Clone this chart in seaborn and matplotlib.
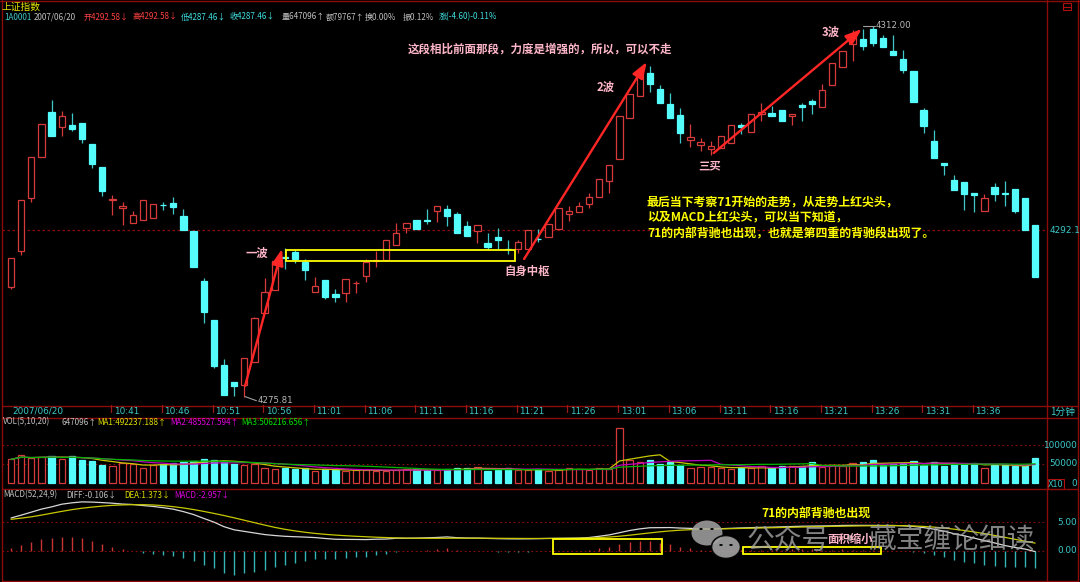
import numpy as np
import pandas as pd
import matplotlib
matplotlib.use("Agg")
import matplotlib.pyplot as plt
import matplotlib.transforms as mtransforms
from matplotlib.patches import Rectangle, Ellipse, Circle
from matplotlib.lines import Line2D
import seaborn as sns

# ---------------- data: 1-minute bars of 上证指数, 2007/06/20 ----------------
tick_labels = ["10:41", "10:46", "10:51", "10:56", "11:01", "11:06", "11:11", "11:16", "11:21",
               "11:26", "13:01", "13:06", "13:11", "13:16", "13:21", "13:26", "13:31", "13:36"]
tick_index = list(range(10, 100, 5))

open_ = [4286.54, 4290.05, 4295.22, 4299.17, 4303.61, 4302.09, 4302.32, 4302.54, 4300.46, 4298.19,
         4295.00, 4294.19, 4292.73, 4293.05, 4293.21, 4294.51, 4294.71, 4293.41, 4292.00, 4287.10,
         4283.29, 4278.90, 4277.22, 4276.92, 4279.20, 4283.95, 4286.22, 4289.41, 4289.88, 4288.95,
         4286.03, 4287.20, 4285.80, 4285.90, 4286.90, 4287.62, 4289.05, 4289.15, 4290.58, 4292.24,
         4293.02, 4293.02, 4293.90, 4294.09, 4293.63, 4292.49, 4292.00, 4290.83, 4291.39, 4290.22,
         4290.19, 4290.22, 4291.20, 4291.36, 4292.14, 4293.63, 4293.86, 4294.58, 4295.32, 4296.88,
         4299.00, 4303.03, 4305.17, 4307.36, 4305.80, 4304.34, 4303.32, 4300.82, 4300.34, 4299.95,
         4300.10, 4300.59, 4302.29, 4301.60, 4303.39, 4303.46, 4303.81, 4303.16, 4304.27, 4304.69,
         4304.04, 4306.19, 4307.94, 4310.19, 4310.68, 4311.68, 4310.77, 4309.53, 4308.73, 4307.61,
         4303.78, 4300.73, 4298.58, 4296.92, 4296.73, 4295.65, 4293.96, 4296.24, 4295.65, 4296.07,
         4295.20, 4292.58]
high = [4289.37, 4295.00, 4299.17, 4302.41, 4304.76, 4303.68, 4303.46, 4302.54, 4300.46, 4298.19,
        4295.49, 4294.83, 4293.96, 4294.97, 4294.58, 4294.83, 4295.26, 4294.12, 4292.00, 4287.42,
        4283.29, 4279.46, 4277.22, 4279.56, 4283.56, 4287.42, 4289.05, 4290.32, 4290.12, 4289.24,
        4287.52, 4287.20, 4286.32, 4287.29, 4287.13, 4289.24, 4290.02, 4291.07, 4292.73, 4292.73,
        4293.02, 4294.09, 4294.41, 4294.48, 4293.80, 4292.92, 4292.53, 4291.75, 4292.24, 4291.10,
        4291.10, 4292.10, 4292.14, 4292.66, 4294.19, 4294.41, 4294.83, 4295.65, 4297.02, 4298.39,
        4303.19, 4305.31, 4307.36, 4308.10, 4306.22, 4305.41, 4303.95, 4302.38, 4301.05, 4300.78,
        4301.27, 4302.35, 4302.54, 4303.39, 4304.43, 4304.17, 4303.81, 4303.39, 4304.49, 4304.88,
        4306.27, 4308.34, 4309.56, 4311.58, 4311.68, 4312.00, 4311.10, 4311.10, 4309.63, 4307.61,
        4303.95, 4301.83, 4298.58, 4297.44, 4296.73, 4295.65, 4295.59, 4296.63, 4296.85, 4296.07,
        4295.20, 4292.58]
low = [4286.32, 4289.66, 4294.83, 4299.17, 4301.24, 4301.27, 4301.76, 4300.59, 4298.15, 4295.42,
       4293.54, 4292.56, 4292.73, 4293.05, 4293.21, 4294.02, 4293.63, 4292.07, 4288.46, 4283.03,
       4278.58, 4275.95, 4275.88, 4275.81, 4279.20, 4283.95, 4286.22, 4288.24, 4288.85, 4287.20,
       4286.03, 4285.31, 4285.08, 4285.08, 4285.96, 4287.03, 4288.49, 4289.15, 4290.58, 4291.75,
       4292.14, 4292.66, 4292.88, 4292.46, 4291.78, 4291.46, 4290.78, 4290.22, 4290.19, 4289.73,
       4289.86, 4290.22, 4290.93, 4291.36, 4292.14, 4292.98, 4293.86, 4294.19, 4295.32, 4295.71,
       4299.00, 4303.03, 4305.17, 4305.56, 4304.49, 4303.00, 4300.53, 4300.20, 4299.81, 4299.39,
       4300.10, 4300.59, 4301.44, 4301.60, 4302.74, 4303.22, 4302.74, 4302.32, 4302.74, 4303.39,
       4304.04, 4306.19, 4307.94, 4308.59, 4309.63, 4310.02, 4309.90, 4309.14, 4307.42, 4304.53,
       4301.57, 4299.07, 4297.44, 4295.98, 4294.02, 4293.86, 4293.96, 4294.90, 4294.41, 4293.76,
       4292.06, 4287.46]
close = [4289.37, 4295.00, 4299.17, 4302.41, 4301.24, 4303.22, 4301.90, 4300.92, 4298.48, 4295.88,
         4295.10, 4294.41, 4293.57, 4294.97, 4294.58, 4294.48, 4294.29, 4292.07, 4288.46, 4284.10,
         4278.81, 4275.95, 4276.86, 4279.56, 4283.46, 4286.00, 4289.05, 4289.35, 4289.24, 4288.17,
         4286.58, 4285.57, 4285.57, 4287.29, 4286.93, 4288.95, 4289.12, 4291.07, 4291.75, 4292.73,
         4292.14, 4292.98, 4294.41, 4293.47, 4291.78, 4291.46, 4292.53, 4290.44, 4291.10, 4290.17,
         4290.87, 4292.10, 4291.15, 4292.66, 4294.19, 4293.96, 4294.44, 4295.26, 4297.02, 4298.39,
         4303.19, 4305.31, 4307.36, 4306.32, 4304.49, 4303.00, 4301.51, 4301.15, 4300.63, 4300.27,
         4301.27, 4302.35, 4302.09, 4303.39, 4303.58, 4303.22, 4302.74, 4303.39, 4304.10, 4304.34,
         4305.70, 4308.34, 4309.56, 4311.10, 4310.02, 4310.34, 4309.90, 4309.14, 4307.68, 4304.53,
         4302.25, 4299.07, 4298.44, 4295.98, 4295.56, 4295.52, 4295.17, 4295.56, 4295.60, 4293.90,
         4292.06, 4287.46]
volume = [619000, 734000, 646000, 690000, 708000, 619000, 708000, 602000, 575000, 469000,
          451000, 531000, 496000, 398000, 460000, 504000, 513000, 549000, 566000, 619000,
          593000, 575000, 496000, 460000, 487000, 398000, 354000, 381000, 354000, 381000,
          310000, 354000, 336000, 319000, 336000, 336000, 319000, 319000, 336000, 363000,
          354000, 336000, 327000, 354000, 398000, 398000, 425000, 319000, 336000, 381000,
          327000, 336000, 354000, 319000, 336000, 398000, 363000, 336000, 381000, 354000,
          1442000, 602000, 557000, 602000, 496000, 557000, 460000, 381000, 425000, 425000,
          398000, 372000, 381000, 381000, 442000, 381000, 442000, 442000, 442000, 549000,
          407000, 469000, 442000, 513000, 549000, 602000, 469000, 487000, 531000, 575000,
          469000, 549000, 442000, 513000, 487000, 531000, 398000, 469000, 469000, 442000,
          434000, 647096]
dea = [5.52, 5.72, 5.95, 6.25, 6.58, 6.90, 7.20, 7.45, 7.65, 7.82,
       7.95, 8.03, 8.07, 8.07, 8.02, 7.90, 7.72, 7.50, 7.22, 6.90,
       6.55, 6.18, 5.78, 5.36, 4.94, 4.52, 4.12, 3.78, 3.50, 3.26,
       3.06, 2.90, 2.77, 2.66, 2.56, 2.48, 2.40, 2.34, 2.28, 2.24,
       2.22, 2.21, 2.21, 2.22, 2.23, 2.23, 2.23, 2.22, 2.21, 2.20,
       2.19, 2.18, 2.18, 2.18, 2.19, 2.20, 2.22, 2.26, 2.33, 2.43,
       2.57, 2.75, 2.95, 3.15, 3.34, 3.50, 3.62, 3.71, 3.77, 3.81,
       3.85, 3.89, 3.93, 3.97, 4.01, 4.05, 4.09, 4.13, 4.17, 4.21,
       4.25, 4.29, 4.32, 4.35, 4.38, 4.40, 4.42, 4.43, 4.41, 4.36,
       4.28, 4.16, 4.00, 3.80, 3.57, 3.31, 3.02, 2.71, 2.38, 2.04,
       1.70, 1.373]
macd = [0.46, 1.05, 1.63, 2.09, 2.21, 2.50, 2.38, 2.21, 1.74, 1.22,
        0.75, 0.29, 0.06, -0.29, -0.52, -0.70, -0.87, -1.28, -1.74, -2.44,
        -3.02, -3.89, -4.18, -3.89, -3.60, -3.31, -2.85, -2.44, -2.03, -1.68,
        -1.45, -1.45, -1.45, -1.28, -1.10, -0.99, -0.70, -0.52, -0.12, -0.05,
        0.06, 0.17, 0.29, 0.46, 0.17, 0.05, 0.03, -0.06, -0.12, -0.17,
        -0.17, -0.12, -0.06, 0.02, 0.03, 0.05, 0.06, 0.17, 0.46, 0.75,
        1.22, 1.63, 1.80, 1.80, 1.45, 1.16, 0.75, 0.46, 0.17, 0.12,
        0.08, 0.12, 0.17, 0.20, 0.23, 0.20, 0.23, 0.26, 0.29, 0.26,
        0.23, 0.20, 0.26, 0.23, 0.17, 0.12, 0.06, 0.03, -0.06, -0.17,
        -0.41, -0.70, -1.10, -1.57, -1.86, -2.15, -2.44, -2.61, -2.85, -2.85,
        -2.73, -2.957]

prev_close = 4292.06

# ---------------- style ----------------
W, H = 1080, 582
RED = "#d63a3a"
CYAN = "#54fcfc"
CYAN_WICK = "#40c8c8"
FRAME = "#8c0c0c"
GRID = "#8c0c0c"
PINK = "#ffb6c8"
YELLOW = "#ffff00"
ARROW = "#ff2626"
AXCYAN = "#3cc8c8"
GRAY = "#c0c0c0"

sns.set_theme(style="dark", rc={"axes.facecolor": "black", "figure.facecolor": "black",
                                "savefig.facecolor": "black"})
plt.rcParams["font.family"] = ["Noto Sans CJK SC", "DejaVu Sans"]
plt.rcParams["axes.unicode_minus"] = False

df = pd.DataFrame({"open": open_, "high": high, "low": low, "close": close,
                   "volume": volume, "dea": dea, "macd": macd})
df["idx"] = np.arange(len(df))
df["up"] = df["close"] >= df["open"]
df["vol10"] = df["volume"] / 10.0
df["ma1"] = df["vol10"].rolling(5, min_periods=1).mean()
df["ma2"] = df["vol10"].rolling(10, min_periods=1).mean()
df["ma3"] = df["vol10"].rolling(20, min_periods=1).mean()
df["diff"] = df["dea"] + df["macd"] / 2.0

fig = plt.figure(figsize=(W / 100, H / 100), dpi=100)
fig.patch.set_facecolor("black")


def px_rect(x0, y0, x1, y1):
    return [x0 / W, 1 - y1 / H, (x1 - x0) / W, (y1 - y0) / H]


def ftext(x, y, s, color, size, ha="left", weight="normal", family=None, **kw):
    fam = family or ["Noto Sans CJK SC", "DejaVu Sans"]
    fig.text(x / W, 1 - y / H, s, color=color, fontsize=size, ha=ha, va="center",
             fontweight=weight, family=fam, **kw)


def fline(x0, y0, x1, y1, color=FRAME, lw=1.0, **kw):
    fig.add_artist(Line2D([x0 / W, x1 / W], [1 - y0 / H, 1 - y1 / H], color=color, lw=lw, **kw))


XLIM = (-0.888, 102.07)
ax_main = fig.add_axes(px_rect(2, 22, 1046, 405))
ax_vol = fig.add_axes(px_rect(2, 418, 1046, 489))
ax_macd = fig.add_axes(px_rect(2, 489, 1046, 581))
for ax in (ax_main, ax_vol, ax_macd):
    ax.set_facecolor("black")
    ax.set_xlim(*XLIM)
    ax.axis("off")
ax_main.set_ylim(4274.99, 4312.36)
ax_vol.set_ylim(-16700, 171650)
ax_macd.set_ylim(-5.23, 10.80)

# ---------------- candles ----------------
bw = 0.62
for r in df.itertuples():
    top, bot = max(r.open, r.close), min(r.open, r.close)
    hgt = max(top - bot, 0.02)
    if r.up:
        ax_main.add_patch(Rectangle((r.idx - bw / 2, bot), bw, hgt, facecolor="black",
                                    edgecolor=RED, lw=0.9, zorder=3))
        wc = RED
    else:
        ax_main.add_patch(Rectangle((r.idx - bw / 2, bot), bw, hgt, facecolor=CYAN,
                                    edgecolor=CYAN, lw=0.9, zorder=3))
        wc = CYAN_WICK
    if r.high > top:
        ax_main.vlines(r.idx, top, r.high, color=wc, lw=0.9, zorder=2)
    if r.low < bot:
        ax_main.vlines(r.idx, r.low, bot, color=wc, lw=0.9, zorder=2)

ax_main.axhline(prev_close, color=GRID, lw=0.9, ls=(0, (2, 2)), zorder=1)

# extreme labels
i_lo = int(df["low"].idxmin())
i_hi = int(df["high"].idxmax())
ax_main.plot([i_lo + 0.08, i_lo + 1.2], [df["low"][i_lo], df["low"][i_lo] - 0.4], color="#a0a0a0", lw=0.8)
ax_main.text(i_lo + 1.3, df["low"][i_lo] - 0.4, f"{df['low'][i_lo]:.2f}", color="#b8b8b8",
             fontsize=6.2, va="center", ha="left", family="DejaVu Sans")
ax_main.plot([i_hi - 1.0, i_hi + 0.2], [df["high"][i_hi], df["high"][i_hi]], color="#a0a0a0", lw=0.8)
ax_main.text(i_hi + 0.3, df["high"][i_hi], f"{df['high'][i_hi]:.2f}", color="#b8b8b8",
             fontsize=6.2, va="center", ha="left", family="DejaVu Sans")

# wave arrows
arrow_kw = dict(arrowstyle="-|>,head_length=0.7,head_width=0.25", color=ARROW, lw=1.7,
                shrinkA=0, shrinkB=0, mutation_scale=14)
ax_main.annotate("", xy=(26.73, 4290.22), xytext=(23.08, 4276.85), arrowprops=arrow_kw, zorder=6)
ax_main.annotate("", xy=(62.7, 4308.46), xytext=(50.6, 4289.24), arrowprops=arrow_kw, zorder=6)
ax_main.annotate("", xy=(83.9, 4311.68), xytext=(69.3, 4299.58), arrowprops=arrow_kw, zorder=6)

# central pivot box
ax_main.add_patch(Rectangle((27.1, 4289.08), 49.7 - 27.1, 4290.09 - 4289.08, fill=False,
                            edgecolor=YELLOW, lw=1.3, zorder=7))

# ---------------- volume ----------------
for r in df.itertuples():
    if r.up:
        ax_vol.add_patch(Rectangle((r.idx - bw / 2, 0), bw, r.vol10, facecolor="black",
                                   edgecolor=RED, lw=0.9, zorder=2))
    else:
        ax_vol.add_patch(Rectangle((r.idx - bw / 2, 0), bw, r.vol10, facecolor=CYAN,
                                   edgecolor=CYAN, lw=0.9, zorder=2))
for lvl in (50000, 100000):
    ax_vol.axhline(lvl, color=GRID, lw=0.8, ls=(0, (1.5, 2.5)), zorder=1)
sns.lineplot(data=df, x="idx", y="ma1", ax=ax_vol, color="#c8c800", lw=0.9, legend=False, zorder=4)
sns.lineplot(data=df, x="idx", y="ma2", ax=ax_vol, color="#c000c0", lw=0.9, legend=False, zorder=4)
sns.lineplot(data=df, x="idx", y="ma3", ax=ax_vol, color="#00b400", lw=0.9, legend=False, zorder=4)
ax_vol.set_xlim(*XLIM)
ax_vol.set_ylim(-16700, 171650)
ax_vol.axis("off")

# ---------------- MACD ----------------
pos = df["macd"] >= 0
ax_macd.vlines(df["idx"][pos], 0, df["macd"][pos], color="#c83434", lw=1.0, zorder=2)
ax_macd.vlines(df["idx"][~pos], 0, df["macd"][~pos], color="#34b4b4", lw=1.0, zorder=2)
for lvl in (0.0, 5.0):
    ax_macd.axhline(lvl, color=GRID, lw=0.8, ls=(0, (1.5, 2.5)), zorder=1)
sns.lineplot(data=df, x="idx", y="diff", ax=ax_macd, color="#d8d8d8", lw=0.9, legend=False, zorder=4)
sns.lineplot(data=df, x="idx", y="dea", ax=ax_macd, color="#c8c800", lw=0.9, legend=False, zorder=4)
ax_macd.set_xlim(*XLIM)
ax_macd.set_ylim(-5.23, 10.80)
ax_macd.axis("off")
ax_macd.add_patch(Rectangle((53.5, -0.52), 64.2 - 53.5, 2.04 + 0.52, fill=False,
                            edgecolor=YELLOW, lw=1.3, zorder=6))
ax_macd.add_patch(Rectangle((72.2, -0.45), 85.8 - 72.2, 0.70 + 0.45, fill=False,
                            edgecolor=YELLOW, lw=1.3, zorder=6))

# ---------------- frame ----------------
fline(1.5, 0, 1.5, 582)
fline(1046.5, 0, 1046.5, 582)
fline(1078, 0, 1078, 582)
fline(0, 0.5, 1080, 0.5)
fline(2, 405.5, 1078, 405.5)
fline(2, 417.5, 1078, 417.5)
fline(2, 488.5, 1078, 488.5)
fline(2, 580.5, 1078, 580.5)
fig.add_artist(Rectangle((1063 / W, 1 - 10 / H), 8 / W, 7 / H, transform=fig.transFigure,
                         fill=False, edgecolor="#b01010", lw=0.8))
fline(1063, 6.5, 1071, 6.5, color="#b01010", lw=0.8)

# ---------------- time axis ----------------
tx = mtransforms.blended_transform_factory(ax_main.transData, fig.transFigure)
for k, lab in zip(tick_index, tick_labels):
    fig.add_artist(Line2D([k - 0.12, k - 0.12], [1 - 405 / H, 1 - 412 / H], transform=tx,
                          color="#a01818", lw=0.9))
    fig.text(k + 0.12, 1 - 411.5 / H, lab, transform=tx, color=AXCYAN, fontsize=6.4,
             va="center", ha="left", family="DejaVu Sans")
ftext(12, 411.5, "2007/06/20", AXCYAN, 6.4, family="DejaVu Sans")
ftext(1050, 411.5, "1分钟", AXCYAN, 7)

# right scale labels
ty_main = mtransforms.blended_transform_factory(fig.transFigure, ax_main.transData)
fig.text(1050 / W, prev_close, f"{prev_close:.1f}", transform=ty_main, color=AXCYAN,
         fontsize=6.4, va="center", ha="left", family="DejaVu Sans")
ty_vol = mtransforms.blended_transform_factory(fig.transFigure, ax_vol.transData)
for lvl in (100000, 50000):
    fig.text(1077 / W, lvl, f"{lvl}", transform=ty_vol, color=AXCYAN, fontsize=6.4,
             va="center", ha="right", family="DejaVu Sans")
ftext(1077, 483, "0", AXCYAN, 6.4, ha="right", family="DejaVu Sans")
fig.add_artist(Rectangle((1048 / W, 1 - 489 / H), 16 / W, 10 / H, transform=fig.transFigure,
                         fill=False, edgecolor="#b01010", lw=0.8))
ftext(1056, 484.5, "X10", AXCYAN, 5.8, ha="center", family="DejaVu Sans")
ty_macd = mtransforms.blended_transform_factory(fig.transFigure, ax_macd.transData)
for lvl in (5.0, 0.0):
    fig.text(1077 / W, lvl, f"{lvl:.2f}", transform=ty_macd, color=AXCYAN, fontsize=6.4,
             va="center", ha="right", family="DejaVu Sans")

# ---------------- header lines ----------------
ftext(2, 7, "上证指数", "#e6e600", 7)
hdr = [(4, "1A0001", "#40c8c8"), (34, "2007/06/20", GRAY), (84, "开4292.58↓", "#ff4040"),
       (132.5, "高4292.58↓", "#ff4040"), (181, "低4287.46↓", "#40e0e0"),
       (229, "收4287.46↓", "#40e0e0"), (281.5, "量647096↑", GRAY), (326, "额79767↑", GRAY),
       (365, "换0.00%", GRAY), (403, "振0.12%", GRAY), (439, "涨(-4.60)-0.11%", "#40e0e0")]
for x, s, c in hdr:
    ftext(x, 17, s, c, 5.8)

vol_hdr = [(3, "VOL(5,10,20)", GRAY), (61, "647096↑", GRAY), (97, "MA1:492237.188↑", "#e0e000"),
           (170, "MA2:485527.594↑", "#e000e0"), (241.5, "MA3:506216.656↑", "#00e000")]
for x, s, c in vol_hdr:
    ftext(x, 422, s, c, 5.8)

macd_hdr = [(3, "MACD(52,24,9)", GRAY), (66, "DIFF:-0.106↓", GRAY), (124, "DEA:1.373↓", "#e0e000"),
            (174, "MACD:-2.957↓", "#e000e0")]
for x, s, c in macd_hdr:
    ftext(x, 495, s, c, 5.8)

# ---------------- annotations ----------------
ftext(257, 253, "一波", PINK, 8.2, ha="center", weight="bold")
ftext(527, 271, "自身中枢", PINK, 8.2, ha="center", weight="bold")
ftext(606, 87, "2波", PINK, 8.2, ha="center", weight="bold")
ftext(831, 32, "3波", PINK, 8.2, ha="center", weight="bold")
ftext(710, 166, "三买", PINK, 8.2, ha="center", weight="bold")
ftext(540, 49, "这段相比前面那段，力度是增强的，所以，可以不走", PINK, 8.3, ha="center", weight="bold")
ftext(647, 202, "最后当下考察71开始的走势，从走势上红尖头，", YELLOW, 8.6, weight="bold")
ftext(647, 218, "以及MACD上红尖头，可以当下知道，", YELLOW, 8.6, weight="bold")
ftext(647, 234, "71的内部背驰也出现，也就是第四重的背驰段出现了。", YELLOW, 8.6, weight="bold")
ftext(816, 513, "71的内部背驰也出现", YELLOW, 8.6, ha="center", weight="bold")

# watermark
wm = "#a4a4a4"
fig.add_artist(Ellipse((707 / W, 1 - 533 / H), 31 / W, 25 / H, transform=fig.transFigure,
                       facecolor=wm, edgecolor="none", alpha=0.85, zorder=8))
fig.add_artist(Ellipse((726 / W, 1 - 547 / H), 29 / W, 23 / H, transform=fig.transFigure,
                       facecolor=wm, edgecolor="black", lw=1.2, alpha=0.9, zorder=9))
for ex, ey in ((701, 529), (712, 529), (721, 545), (731, 545)):
    fig.add_artist(Circle((ex / W, 1 - ey / H), 1.8 / W, transform=fig.transFigure,
                          facecolor="black", edgecolor="none", zorder=10))
ftext(747, 541, "公众号", wm, 20, alpha=0.8, zorder=8)
ftext(850, 541, "·", wm, 20, ha="center", alpha=0.8, zorder=8)
ftext(868, 541, "藏宝缠论细读", wm, 20, alpha=0.8, zorder=8)
ftext(850, 539, "面积缩小", PINK, 8.2, ha="center", weight="bold", zorder=11)

fig.savefig("out.png", dpi=100, facecolor="black")
